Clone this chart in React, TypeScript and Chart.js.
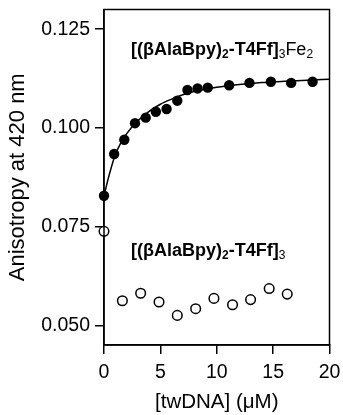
import React, { useEffect, useRef } from "react";
import { Chart, registerables } from "chart.js";

Chart.register(...registerables);

// Complex with Fe (filled circles)
const feX = [0, 0.9, 1.8, 2.75, 3.7, 4.6, 5.55, 6.5, 7.4, 8.3, 9.2, 11.1, 12.9, 14.8, 16.6, 18.5];
const feY = [0.0828, 0.0934, 0.097, 0.1012, 0.1026, 0.1041, 0.1048, 0.1069, 0.1096, 0.11, 0.1102, 0.1108, 0.1114, 0.1117, 0.1114, 0.1117];
// Fit curve for Fe complex
const fitX = [0, 0.5, 1, 1.5, 2, 3, 4, 5, 6, 7, 8, 10, 12, 14, 16, 18, 20];
const fitY = [0.0828, 0.0885, 0.0932, 0.0962, 0.0985, 0.1018, 0.1042, 0.106, 0.1073, 0.1084, 0.1092, 0.1103, 0.111, 0.1115, 0.1118, 0.1121, 0.1123];
// Apo complex (open circles)
const apoX = [0, 1.63, 3.25, 4.88, 6.5, 8.13, 9.75, 11.4, 13.0, 14.65, 16.25];
const apoY = [0.0738, 0.0562, 0.0581, 0.0559, 0.0525, 0.0542, 0.0568, 0.0552, 0.0565, 0.0593, 0.0579];

const yTicks = [0.05, 0.075, 0.1, 0.125];
const xTicks = [0, 5, 10, 15, 20];

const FONT = '"Liberation Sans", Arial, Helvetica, sans-serif';

type Run = { t: string; bold: boolean; sub: boolean };
const label1: Run[] = [
  { t: "[(βAlaBpy)", bold: true, sub: false },
  { t: "2", bold: true, sub: true },
  { t: "-T4Ff]", bold: true, sub: false },
  { t: "3", bold: false, sub: true },
  { t: "Fe", bold: false, sub: false },
  { t: "2", bold: false, sub: true },
];
const label2: Run[] = [
  { t: "[(βAlaBpy)", bold: true, sub: false },
  { t: "2", bold: true, sub: true },
  { t: "-T4Ff]", bold: true, sub: false },
  { t: "3", bold: false, sub: true },
];
const labelPos = [
  { runs: label1, x: 2.4, y: 0.1197 },
  { runs: label2, x: 2.4, y: 0.0689 },
];

const boxPlugin = {
  id: "box",
  afterDraw(chart: any) {
    const { ctx, chartArea: a } = chart;
    ctx.save();
    ctx.strokeStyle = "#000";
    ctx.lineWidth = 1.5;
    ctx.strokeRect(a.left, a.top, a.right - a.left, a.bottom - a.top);
    ctx.restore();
  },
};

const labelPlugin = {
  id: "labels",
  afterDatasetsDraw(chart: any) {
    const { ctx, scales } = chart;
    ctx.save();
    ctx.fillStyle = "#000";
    ctx.textBaseline = "middle";
    ctx.textAlign = "left";
    for (const lp of labelPos) {
      let x = scales.x.getPixelForValue(lp.x);
      const y = scales.y.getPixelForValue(lp.y);
      for (const r of lp.runs) {
        const size = r.sub ? 12 : 18;
        ctx.font = `${r.bold ? "bold " : ""}${size}px ${FONT}`;
        ctx.fillText(r.t, x, r.sub ? y + 5 : y);
        x += ctx.measureText(r.t).width;
      }
    }
    ctx.restore();
  },
};

export default function App() {
  const ref = useRef<HTMLCanvasElement>(null);
  useEffect(() => {
    if (!ref.current) return;
    const chart = new Chart(ref.current, {
      type: "scatter",
      data: {
        datasets: [
          {
            type: "line",
            label: "fit",
            data: fitX.map((x, i) => ({ x, y: fitY[i] })),
            borderColor: "#000",
            borderWidth: 1.5,
            pointRadius: 0,
            cubicInterpolationMode: "monotone",
            fill: false,
          } as any,
          {
            label: "[(βAlaBpy)2-T4Ff]3Fe2",
            data: feX.map((x, i) => ({ x, y: feY[i] })),
            backgroundColor: "#000",
            borderColor: "#000",
            pointRadius: 5.2,
            borderWidth: 0,
            clip: false,
          } as any,
          {
            label: "[(βAlaBpy)2-T4Ff]3",
            data: apoX.map((x, i) => ({ x, y: apoY[i] })),
            backgroundColor: "#fff",
            borderColor: "#000",
            pointRadius: 4.8,
            borderWidth: 1.5,
            clip: false,
          } as any,
        ],
      },
      options: {
        animation: false,
        responsive: false,
        maintainAspectRatio: false,
        layout: { padding: { left: 0, top: 9.5, right: 13.5, bottom: 0 } },
        plugins: { legend: { display: false }, tooltip: { enabled: false } },
        scales: {
          x: {
            type: "linear",
            min: 0,
            max: 20,
            afterBuildTicks: (s: any) => {
              s.ticks = xTicks.map((v) => ({ value: v }));
            },
            afterFit: (s: any) => {
              s.height = 70;
              s.paddingLeft = 0;
              s.paddingRight = 0;
            },
            ticks: {
              color: "#000",
              font: { family: FONT, size: 19.5 },
              padding: 7,
              maxRotation: 0,
              callback: (v: any) => String(v),
            },
            grid: { display: true, drawOnChartArea: false, drawTicks: true, tickLength: 9, color: "#000", lineWidth: 1.5 },
            border: { display: true, color: "#000", width: 1.5 },
            title: {
              display: true,
              text: "[twDNA] (μM)",
              color: "#000",
              font: { family: FONT, size: 20.5, lineHeight: 1 },
              padding: { top: 0, bottom: 2 },
            },
          },
          y: {
            type: "linear",
            min: 0.045,
            max: 0.13,
            afterBuildTicks: (s: any) => {
              s.ticks = yTicks.map((v) => ({ value: v }));
            },
            afterFit: (s: any) => {
              s.width = 104;
              s.paddingTop = 0;
              s.paddingBottom = 0;
            },
            ticks: {
              color: "#000",
              font: { family: FONT, size: 19.5 },
              padding: 5,
              callback: (v: any) => Number(v).toFixed(3),
            },
            grid: { display: true, drawOnChartArea: false, drawTicks: true, tickLength: 9, color: "#000", lineWidth: 1.5 },
            border: { display: true, color: "#000", width: 1.5 },
            title: {
              display: true,
              text: "Anisotropy at 420 nm",
              color: "#000",
              font: { family: FONT, size: 22, lineHeight: 1 },
              padding: { top: 6.5, bottom: 0 },
            },
          },
        },
      },
      plugins: [boxPlugin, labelPlugin],
    });
    return () => chart.destroy();
  }, []);
  return (
    <div style={{ position: "fixed", left: 0, top: 0, width: 343, height: 415, background: "#fff" }}>
      <canvas ref={ref} width={343} height={415} style={{ display: "block", width: 343, height: 415 }} />
    </div>
  );
}
